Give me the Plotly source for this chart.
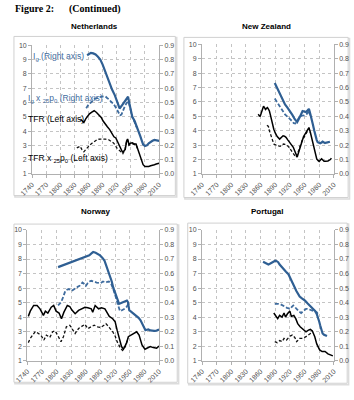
import plotly.graph_objects as go

W, H = 354, 400

# ---------------- data ----------------
# Netherlands
nl_ig_year = [1857, 1861, 1865, 1870, 1875, 1880, 1885, 1890, 1895, 1900, 1905, 1910, 1916, 1920, 1926, 1930, 1935, 1940, 1944, 1947, 1950, 1953, 1958, 1963, 1967, 1970, 1973, 1976, 1980, 1984, 1988, 1992, 1996, 2000, 2004, 2008, 2010]
nl_ig = [0.83, 0.84, 0.847, 0.843, 0.836, 0.82, 0.80, 0.765, 0.72, 0.675, 0.63, 0.59, 0.55, 0.51, 0.458, 0.475, 0.50, 0.52, 0.54, 0.49, 0.45, 0.40, 0.37, 0.33, 0.30, 0.264, 0.235, 0.207, 0.195, 0.20, 0.215, 0.225, 0.232, 0.238, 0.235, 0.232, 0.232]
nl_igp_year = [1855, 1858, 1861, 1865, 1869, 1873, 1878, 1882, 1887, 1892, 1896, 1900, 1903, 1908, 1913, 1918, 1923, 1927, 1930, 1934, 1938, 1942, 1945, 1948, 1950, 1953, 1958, 1963]
nl_igp = [0.46, 0.475, 0.49, 0.50, 0.51, 0.525, 0.53, 0.536, 0.54, 0.543, 0.542, 0.53, 0.524, 0.505, 0.49, 0.465, 0.433, 0.41, 0.415, 0.45, 0.48, 0.50, 0.506, 0.47, 0.433, 0.398, 0.362, 0.322]
nl_tfr_year = [1843, 1847, 1850, 1854, 1858, 1862, 1867, 1872, 1877, 1882, 1887, 1891, 1895, 1900, 1905, 1910, 1914, 1918, 1921, 1924, 1928, 1932, 1935, 1938, 1941, 1943, 1946, 1949, 1953, 1957, 1961, 1964, 1967, 1970, 1973, 1976, 1980, 1984, 1988, 1992, 1996, 2000, 2004, 2008, 2010]
nl_tfr = [4.83, 4.7, 4.6, 4.85, 5.06, 5.2, 5.32, 5.42, 5.3, 5.15, 4.95, 4.7, 4.5, 4.3, 4.1, 3.8, 3.6, 3.52, 3.3, 3.0, 2.75, 2.54, 2.6, 2.72, 3.3, 3.45, 3.07, 3.15, 3.18, 3.1, 3.1, 2.8, 2.6, 2.3, 1.9, 1.65, 1.52, 1.5, 1.53, 1.58, 1.6, 1.65, 1.7, 1.74, 1.75]
nl_tfrp_year = [1835, 1839, 1842, 1846, 1850, 1854, 1857, 1862, 1868, 1873, 1879, 1885, 1890, 1896, 1903, 1908, 1913, 1917, 1920, 1924, 1927, 1930, 1933, 1936, 1938, 1941, 1943, 1946, 1949, 1953, 1957, 1961, 1964]
nl_tfrp = [2.82, 2.9, 2.94, 2.7, 2.55, 2.7, 2.82, 3.0, 3.17, 3.3, 3.42, 3.44, 3.46, 3.44, 3.39, 3.3, 3.17, 3.0, 2.82, 2.7, 2.6, 2.5, 2.42, 2.6, 2.8, 3.3, 3.4, 3.0, 3.08, 3.1, 3.05, 3.05, 2.78]

# New Zealand
nz_ig_year = [1889, 1895, 1900, 1905, 1910, 1915, 1920, 1925, 1930, 1935, 1938, 1940, 1943, 1946, 1950, 1953, 1956, 1959, 1962, 1965, 1967, 1970, 1972, 1975, 1977, 1980, 1982, 1985, 1987, 1990, 1992, 1995, 1998, 2002]
nz_ig = [0.631, 0.59, 0.55, 0.515, 0.482, 0.46, 0.437, 0.41, 0.38, 0.36, 0.38, 0.398, 0.415, 0.437, 0.435, 0.43, 0.44, 0.452, 0.414, 0.38, 0.345, 0.30, 0.265, 0.235, 0.22, 0.212, 0.213, 0.218, 0.224, 0.218, 0.215, 0.218, 0.22, 0.224]
nz_igp_year = [1889, 1895, 1900, 1905, 1910, 1915, 1920, 1925, 1928, 1931, 1933, 1937, 1940, 1945, 1949, 1953, 1956, 1959, 1962]
nz_igp = [0.523, 0.49, 0.46, 0.437, 0.414, 0.398, 0.384, 0.365, 0.352, 0.35, 0.36, 0.385, 0.398, 0.405, 0.407, 0.415, 0.42, 0.44, 0.405]
nz_tfr_year = [1855, 1857, 1859, 1862, 1866, 1868, 1870, 1872, 1874, 1876, 1878, 1880, 1882, 1885, 1887, 1890, 1894, 1899, 1903, 1906, 1909, 1912, 1916, 1920, 1924, 1927, 1930, 1933, 1935, 1937, 1940, 1943, 1945, 1948, 1951, 1954, 1956, 1959, 1962, 1965, 1967, 1969, 1971, 1973, 1975, 1978, 1980, 1983, 1985, 1988, 1990, 1993, 1995, 1998, 2000, 2003, 2005]
nz_tfr = [5.14, 5.0, 4.98, 5.3, 5.7, 5.6, 5.48, 5.55, 5.6, 5.5, 5.37, 5.1, 4.8, 4.4, 4.11, 3.85, 3.6, 3.42, 3.55, 3.65, 3.62, 3.54, 3.35, 3.15, 3.0, 2.85, 2.6, 2.33, 2.17, 2.4, 2.74, 3.1, 3.42, 3.6, 3.77, 3.95, 4.11, 4.22, 3.88, 3.45, 3.2, 2.9, 2.63, 2.3, 2.05, 1.92, 1.87, 1.98, 2.05, 1.95, 1.89, 1.88, 1.87, 1.9, 1.94, 2.0, 2.1]
nz_tfrp_year = [1873, 1876, 1878, 1881, 1884, 1887, 1890, 1894, 1897, 1900, 1904, 1907, 1910, 1913, 1917, 1920, 1924, 1927, 1930, 1933, 1936, 1938, 1941, 1943, 1946, 1949, 1952, 1956, 1959, 1962]
nz_tfrp = [4.38, 4.3, 4.0, 3.65, 3.3, 3.08, 3.03, 3.01, 2.95, 2.92, 3.0, 3.08, 3.05, 3.01, 2.9, 2.74, 2.55, 2.4, 2.28, 2.17, 2.4, 2.63, 2.95, 3.2, 3.4, 3.54, 3.75, 4.0, 4.15, 3.85]

# Norway
no_ig_year = [1803, 1840, 1867, 1872, 1875, 1880, 1884, 1889, 1894, 1898, 1901, 1905, 1910, 1913, 1916, 1920, 1923, 1926, 1928, 1931, 1935, 1939, 1944, 1946, 1949, 1952, 1956, 1960, 1964, 1968, 1972, 1975, 1979, 1982, 1985, 1988, 1992, 1995, 2000, 2005, 2010]
no_ig = [0.644, 0.69, 0.726, 0.74, 0.748, 0.743, 0.735, 0.725, 0.708, 0.69, 0.662, 0.625, 0.583, 0.545, 0.504, 0.47, 0.436, 0.405, 0.391, 0.395, 0.402, 0.409, 0.414, 0.405, 0.346, 0.34, 0.328, 0.318, 0.31, 0.295, 0.278, 0.26, 0.233, 0.21, 0.213, 0.215, 0.208, 0.205, 0.205, 0.207, 0.215]
no_igp_year = [1803, 1806, 1809, 1812, 1815, 1818, 1822, 1825, 1828, 1831, 1835, 1840, 1844, 1847, 1850, 1853, 1856, 1860, 1864, 1867, 1871, 1874, 1878, 1882, 1886, 1890, 1895, 1898, 1901, 1904, 1907, 1910, 1912, 1916, 1919, 1921, 1923, 1925, 1928, 1930, 1933, 1936, 1940, 1943, 1947]
no_igp = [0.38, 0.39, 0.402, 0.425, 0.455, 0.481, 0.49, 0.493, 0.488, 0.481, 0.49, 0.504, 0.51, 0.515, 0.525, 0.538, 0.53, 0.515, 0.535, 0.545, 0.55, 0.549, 0.543, 0.538, 0.535, 0.534, 0.545, 0.542, 0.538, 0.543, 0.545, 0.537, 0.527, 0.493, 0.465, 0.448, 0.42, 0.391, 0.36, 0.341, 0.345, 0.35, 0.358, 0.368, 0.391]
no_tfr_year = [1742, 1746, 1753, 1760, 1766, 1773, 1777, 1782, 1789, 1794, 1799, 1805, 1810, 1815, 1822, 1827, 1831, 1838, 1845, 1851, 1858, 1864, 1871, 1874, 1879, 1886, 1892, 1899, 1903, 1908, 1915, 1920, 1924, 1928, 1933, 1937, 1943, 1947, 1952, 1958, 1964, 1969, 1975, 1981, 1986, 1992, 1998, 2005, 2010]
no_tfr = [4.05, 4.41, 4.8, 4.8, 4.57, 4.12, 4.41, 4.28, 4.68, 4.8, 4.41, 4.28, 3.89, 4.34, 4.8, 4.73, 4.5, 4.23, 4.46, 4.57, 4.68, 4.64, 4.57, 4.34, 4.8, 4.57, 4.64, 4.57, 4.34, 4.05, 3.89, 3.67, 3.1, 2.53, 1.97, 1.79, 2.19, 2.65, 2.76, 2.92, 2.99, 2.76, 2.08, 1.79, 1.86, 1.97, 1.9, 1.86, 2.01]
no_tfrp_year = [1742, 1746, 1756, 1763, 1769, 1774, 1779, 1786, 1792, 1797, 1802, 1809, 1814, 1820, 1827, 1831, 1838, 1845, 1851, 1858, 1864, 1871, 1877, 1884, 1890, 1897, 1901, 1908, 1915, 1920, 1924, 1930, 1935, 1941, 1946]
no_tfrp = [2.24, 2.53, 2.99, 2.87, 2.69, 2.42, 2.76, 2.6, 2.99, 3.05, 2.76, 2.31, 2.65, 3.33, 3.44, 3.21, 2.87, 3.21, 3.33, 3.51, 3.21, 3.33, 3.44, 3.33, 3.28, 3.44, 3.55, 3.28, 2.99, 2.69, 2.31, 1.92, 1.7, 1.97, 2.53]

# Portugal
pt_ig_year = [1865, 1869, 1873, 1876, 1879, 1882, 1887, 1890, 1893, 1896, 1899, 1903, 1907, 1912, 1917, 1921, 1925, 1929, 1933, 1937, 1940, 1944, 1947, 1951, 1956, 1960, 1964, 1968, 1972, 1975, 1977, 1980, 1982, 1985, 1987, 1990, 1992, 1996]
pt_ig = [0.681, 0.674, 0.667, 0.662, 0.667, 0.674, 0.685, 0.688, 0.685, 0.678, 0.662, 0.645, 0.629, 0.612, 0.595, 0.57, 0.538, 0.51, 0.481, 0.455, 0.441, 0.43, 0.425, 0.413, 0.395, 0.38, 0.368, 0.355, 0.341, 0.322, 0.305, 0.27, 0.244, 0.21, 0.187, 0.178, 0.176, 0.169]
pt_igp_year = [1889, 1893, 1897, 1901, 1904, 1909, 1914, 1918, 1921, 1924, 1927, 1930, 1933, 1936, 1939, 1943, 1946, 1949, 1953, 1956, 1960, 1964, 1969, 1972, 1975, 1977]
pt_igp = [0.391, 0.393, 0.391, 0.388, 0.384, 0.374, 0.364, 0.36, 0.357, 0.37, 0.38, 0.37, 0.357, 0.345, 0.337, 0.328, 0.338, 0.35, 0.357, 0.357, 0.352, 0.35, 0.341, 0.338, 0.334, 0.323]
pt_tfr_year = [1887, 1891, 1895, 1899, 1904, 1908, 1911, 1915, 1920, 1923, 1928, 1932, 1936, 1941, 1946, 1953, 1958, 1962, 1966, 1971, 1975, 1981, 1986, 1992, 1998, 2005, 2008]
pt_tfr = [4.28, 4.05, 3.89, 4.12, 4.0, 4.28, 4.0, 4.23, 4.41, 4.05, 4.12, 3.89, 3.55, 3.33, 3.21, 2.99, 3.1, 3.15, 3.05, 2.65, 2.15, 1.74, 1.63, 1.63, 1.47, 1.36, 1.33]
pt_tfrp_year = [1889, 1894, 1899, 1904, 1908, 1913, 1920, 1925, 1930, 1934, 1940, 1946, 1953, 1958, 1962, 1967]
pt_tfrp = [2.31, 2.24, 2.38, 2.31, 2.53, 2.42, 2.69, 2.76, 2.6, 2.31, 2.53, 2.53, 2.65, 2.76, 2.87, 3.05]

panel_titles = ["Netherlands", "New Zealand", "Norway", "Portugal"]
x_ticks = [1740, 1770, 1800, 1830, 1860, 1890, 1920, 1950, 1980, 2010]
left_ticks = [1, 2, 3, 4, 5, 6, 7, 8, 9, 10]
right_ticks = [0.0, 0.1, 0.2, 0.3, 0.4, 0.5, 0.6, 0.7, 0.8, 0.9]

panels = [
    dict(title=panel_titles[0], ig=(nl_ig_year, nl_ig), igp=(nl_igp_year, nl_igp), tfr=(nl_tfr_year, nl_tfr), tfrp=(nl_tfrp_year, nl_tfrp),
         plot=(20, 153, 42, 173), box=(1, 170, 33, 195), title_y=23),
    dict(title=panel_titles[1], ig=(nz_ig_year, nz_ig), igp=(nz_igp_year, nz_igp), tfr=(nz_tfr_year, nz_tfr), tfrp=(nz_tfrp_year, nz_tfrp),
         plot=(198, 336, 41, 173), box=(179, 351, 34, 197), title_y=23),
    dict(title=panel_titles[2], ig=(no_ig_year, no_ig), igp=(no_igp_year, no_igp), tfr=(no_tfr_year, no_tfr), tfrp=(no_tfrp_year, no_tfrp),
         plot=(15, 153, 230, 363), box=(1, 172, 224, 385), title_y=211),
    dict(title=panel_titles[3], ig=(pt_ig_year, pt_ig), igp=(pt_igp_year, pt_igp), tfr=(pt_tfr_year, pt_tfr), tfrp=(pt_tfrp_year, pt_tfrp),
         plot=(198, 336, 230, 363), box=(183, 350, 223, 386), title_y=211),
]

BLUE = "#2f5f93"
BLUE_D = "#3f6c9e"
GRID = "#c4c4c4"
AXIS = "#b0b0b0"
TICKFONT = dict(family="Liberation Sans, Arial", size=7, color="#505050")

fig = go.Figure()
layout = dict(width=W, height=H, margin=dict(l=0, r=0, t=0, b=0),
              paper_bgcolor="white", plot_bgcolor="white", showlegend=False)
shapes, annotations = [], []

def px(x):
    return x / W

def py(y):
    return 1 - y / H

for i, p in enumerate(panels):
    n = i + 1
    xs = "" if n == 1 else str(n)
    ysl = "" if n == 1 else str(n)
    ysr = str(n + 4)
    x0, x1, y0, y1 = p["plot"]
    layout["xaxis" + xs] = dict(domain=[px(x0), px(x1)], range=[1740, 2010], anchor="y" + ysl,
                                tickvals=x_ticks, tickangle=-45, tickfont=TICKFONT,
                                showgrid=True, gridcolor=GRID, griddash="dot", gridwidth=1,
                                showline=True, linecolor=AXIS, linewidth=1,
                                ticks="outside", ticklen=3, tickcolor=AXIS, zeroline=False)
    layout["yaxis" + ysl] = dict(domain=[py(y1), py(y0)], range=[1, 10], anchor="x" + xs,
                                 tickvals=left_ticks, tickfont=TICKFONT,
                                 showgrid=True, gridcolor=GRID, griddash="dot", gridwidth=1,
                                 showline=True, linecolor=AXIS, linewidth=1,
                                 ticks="outside", ticklen=3, tickcolor=AXIS, zeroline=False)
    layout["yaxis" + ysr] = dict(range=[0, 0.9], overlaying="y" + ysl, side="right", anchor="x" + xs,
                                 tickvals=right_ticks, tickformat=".1f", tickfont=TICKFONT,
                                 showgrid=False, showline=True, linecolor=AXIS, linewidth=1,
                                 ticks="outside", ticklen=3, tickcolor=AXIS, zeroline=False)
    xa = "x" + xs
    fig.add_trace(go.Scatter(x=p["tfrp"][0], y=p["tfrp"][1], xaxis=xa, yaxis="y" + ysl, mode="lines",
                             line=dict(color="#111111", width=1.3, dash="3px,2px"), hoverinfo="skip"))
    fig.add_trace(go.Scatter(x=p["tfr"][0], y=p["tfr"][1], xaxis=xa, yaxis="y" + ysl, mode="lines",
                             line=dict(color="#000000", width=1.5), hoverinfo="skip"))
    fig.add_trace(go.Scatter(x=p["igp"][0], y=p["igp"][1], xaxis=xa, yaxis="y" + ysr, mode="lines",
                             line=dict(color=BLUE_D, width=1.8, dash="4px,2px"), hoverinfo="skip"))
    fig.add_trace(go.Scatter(x=p["ig"][0], y=p["ig"][1], xaxis=xa, yaxis="y" + ysr, mode="lines",
                             line=dict(color=BLUE, width=2.2), hoverinfo="skip"))
    bx0, bx1, by0, by1 = p["box"]
    # shadow
    shapes.append(dict(type="rect", xref="paper", yref="paper", x0=px(bx0 + 1), x1=px(bx1 + 1.5),
                       y0=py(by1 + 1.5), y1=py(by0 + 1), line=dict(color="#dcdcdc", width=1.5), layer="below"))
    shapes.append(dict(type="rect", xref="paper", yref="paper", x0=px(bx0), x1=px(bx1),
                       y0=py(by1), y1=py(by0), line=dict(color="#d0d0d0", width=1), fillcolor="white", layer="below"))
    annotations.append(dict(text="<b>" + p["title"] + "</b>", xref="paper", yref="paper",
                            x=px((bx0 + bx1) / 2), y=py(p["title_y"]), xanchor="center", yanchor="middle",
                            showarrow=False, font=dict(family="Liberation Sans, Arial", size=8, color="#000")))

LBL = dict(family="Liberation Sans, Arial", size=8.5)
annotations += [
    dict(text="I<sub>g</sub> (Right axis)", x=px(76), y=py(53), xanchor="right", font=dict(color=BLUE_D, **LBL)),
    dict(text="I<sub>g</sub> x <sub>25</sub>p<sub>0</sub> (Right axis)", x=px(14), y=py(96), xanchor="left", font=dict(color=BLUE_D, **LBL)),
    dict(text="TFR (Left axis)", x=px(14), y=py(117), xanchor="left", font=dict(color="#000", **LBL)),
    dict(text="TFR x <sub>25</sub>p<sub>0</sub> (Left axis)", x=px(14), y=py(157), xanchor="left", font=dict(color="#000", **LBL)),
    dict(text="<b>Figure 2:</b>", x=0, y=py(5), xanchor="left", font=dict(family="Liberation Serif, Times New Roman", size=10, color="#000")),
    dict(text="<b>(Continued)</b>", x=px(57), y=py(5), xanchor="left", font=dict(family="Liberation Serif, Times New Roman", size=10, color="#000")),
]
for a in annotations[-6:]:
    a.update(xref="paper", yref="paper", yanchor="middle", showarrow=False)

layout["shapes"] = shapes
layout["annotations"] = annotations
fig.update_layout(**layout)
fig.write_html("out.html")
